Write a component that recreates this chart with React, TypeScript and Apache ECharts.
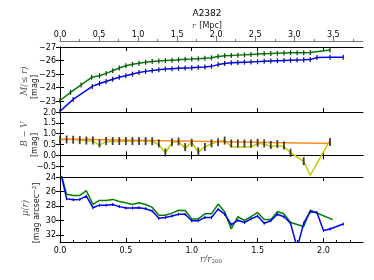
import React, { useEffect, useRef } from "react";
import * as echarts from "echarts";

// ---- Top panel: cumulative magnitude M(<=r) ----
const magRV = [0, 0.08, 0.16, 0.24, 0.3, 0.35, 0.4, 0.45, 0.5, 0.55, 0.6, 0.65, 0.7, 0.75, 0.8, 0.85, 0.9, 0.95, 1.0, 1.05, 1.1, 1.15, 1.2, 1.25, 1.3, 1.35, 1.4, 1.45, 1.5, 1.55, 1.6, 1.65, 1.7, 1.75, 1.8, 1.85, 1.9, 2.05];
const magV = [-23.05, -23.65, -24.2, -24.76, -24.88, -25.05, -25.25, -25.45, -25.62, -25.72, -25.8, -25.88, -25.93, -25.97, -26.0, -26.03, -26.06, -26.09, -26.11, -26.14, -26.17, -26.2, -26.3, -26.36, -26.38, -26.4, -26.42, -26.45, -26.48, -26.5, -26.52, -26.54, -26.56, -26.58, -26.58, -26.58, -26.6, -26.78];
const magRB = [0, 0.1, 0.245, 0.3, 0.35, 0.4, 0.45, 0.5, 0.55, 0.6, 0.65, 0.7, 0.75, 0.8, 0.85, 0.9, 0.95, 1.0, 1.05, 1.1, 1.15, 1.2, 1.25, 1.3, 1.35, 1.4, 1.45, 1.5, 1.55, 1.6, 1.65, 1.7, 1.75, 1.8, 1.85, 1.9, 1.95, 2.05, 2.15];
const magB = [-22.26, -23.13, -24.09, -24.3, -24.45, -24.62, -24.77, -24.88, -25.0, -25.12, -25.2, -25.27, -25.32, -25.37, -25.4, -25.43, -25.45, -25.47, -25.5, -25.53, -25.57, -25.7, -25.78, -25.83, -25.86, -25.88, -25.9, -25.92, -25.94, -25.96, -25.98, -26.0, -26.02, -26.04, -26.05, -26.07, -26.22, -26.24, -26.25];

// ---- Middle panel: B - V colour ----
const colR = [0, 0.05, 0.1, 0.15, 0.2, 0.25, 0.3, 0.35, 0.4, 0.45, 0.5, 0.55, 0.6, 0.65, 0.7, 0.75, 0.8, 0.85, 0.9, 0.95, 1.0, 1.05, 1.1, 1.15, 1.2, 1.25, 1.3, 1.35, 1.4, 1.45, 1.5, 1.55, 1.6, 1.65, 1.7, 1.75, 1.85, 1.9, 2.05];
const colBV = [0.72, 0.73, 0.74, 0.7, 0.67, 0.66, 0.47, 0.63, 0.64, 0.65, 0.65, 0.65, 0.66, 0.66, 0.64, 0.5, 0.12, 0.58, 0.63, 0.32, 0.61, 0.15, 0.4, 0.53, 0.64, 0.7, 0.4, 0.38, 0.38, 0.38, 0.55, 0.52, 0.4, 0.46, 0.4, 0.12, -0.28, -0.92, 0.7];
const barBV = [0.72, 0.73, 0.72, 0.7, 0.68, 0.68, 0.55, 0.66, 0.66, 0.66, 0.66, 0.66, 0.66, 0.66, 0.65, 0.55, 0.13, 0.6, 0.64, 0.38, 0.58, 0.18, 0.38, 0.55, 0.6, 0.68, 0.55, 0.55, 0.55, 0.55, 0.58, 0.55, 0.48, 0.52, 0.45, 0.12, -0.27, null, 0.62];
const fitR = [0, 2.05];
const fitBV = [0.75, 0.55];

// ---- Bottom panel: surface brightness mu(r) ----
const muRV = [0, 0.05, 0.1, 0.15, 0.2, 0.25, 0.3, 0.35, 0.4, 0.45, 0.5, 0.55, 0.6, 0.65, 0.7, 0.75, 0.8, 0.85, 0.9, 0.95, 1.0, 1.05, 1.1, 1.15, 1.2, 1.25, 1.3, 1.35, 1.4, 1.45, 1.5, 1.55, 1.6, 1.65, 1.7, 1.75, 1.85, 1.9, 2.07];
const muV = [23.0, 26.4, 26.55, 26.55, 25.9, 27.8, 27.25, 27.25, 27.1, 27.4, 27.57, 27.8, 27.57, 27.8, 28.2, 29.3, 29.3, 29.0, 28.6, 28.65, 29.8, 29.8, 29.1, 29.1, 27.75, 28.8, 31.2, 29.5, 30.0, 29.5, 28.9, 29.9, 29.9, 28.8, 29.1, 30.3, 30.85, 28.6, 29.9];
const muRB = [0, 0.05, 0.1, 0.15, 0.2, 0.25, 0.3, 0.35, 0.4, 0.45, 0.5, 0.55, 0.6, 0.65, 0.7, 0.75, 0.8, 0.85, 0.9, 0.95, 1.0, 1.05, 1.1, 1.15, 1.2, 1.25, 1.3, 1.35, 1.4, 1.45, 1.5, 1.55, 1.6, 1.65, 1.7, 1.75, 1.8, 1.85, 1.9, 1.95, 2.0, 2.05, 2.15];
const muB = [23.0, 27.0, 27.15, 27.1, 26.65, 28.25, 27.9, 27.9, 27.8, 28.1, 28.3, 28.3, 28.25, 28.4, 28.7, 29.7, 29.6, 29.4, 29.15, 29.15, 30.07, 30.07, 29.6, 29.6, 28.45, 29.15, 30.6, 30.0, 30.3, 29.8, 29.4, 30.4, 30.05, 29.15, 29.5, 30.4, 33.8, 30.4, 28.8, 28.9, 31.4, 31.2, 30.5];

// ---- Tick values ----
const rTicks = [0, 0.5, 1.0, 1.5, 2.0];
const rMinor = [0.1, 0.2, 0.3, 0.4, 0.6, 0.7, 0.8, 0.9, 1.1, 1.2, 1.3, 1.4, 1.6, 1.7, 1.8, 1.9, 2.1, 2.2];
const mpcTicks = [0, 0.5, 1.0, 1.5, 2.0, 2.5, 3.0, 3.5];
const mpcMinor = [0.25, 0.75, 1.25, 1.75, 2.25, 2.75, 3.25, 3.75];
const magTicks = [-27, -26, -25, -24, -23];
const bvTicks = [-0.5, 0, 0.5, 1.0, 1.5, 2.0];
const bvAllTicks = [-1, -0.5, 0, 0.5, 1.0, 1.5, 2.0];
const muTicks = [24, 26, 28, 30, 32];

const pairs = (xs: number[], ys: (number | null)[]) => xs.map((x, i) => [x, ys[i]]);
const minus = (d: number) => (v: number) => (v < -1e-9 ? "\u2212" : "") + Math.abs(v).toFixed(d);

const FONT = "DejaVu Sans";
const MATH = "DejaVu Serif";

export default function App() {
  const ref = useRef<HTMLDivElement>(null);
  useEffect(() => {
    const chart = echarts.init(ref.current!, null, { renderer: "svg" });
    const L = 60, W = 303, H = 65;
    const tops = [47, 112, 177];
    const lbl = (vals: number[], d: number, show = true) => ({
      show,
      customValues: vals,
      formatter: minus(d),
      fontFamily: FONT,
      fontSize: 8,
      color: "#000",
      margin: 4,
      hideOverlap: false,
      showMinLabel: true,
      showMaxLabel: true,
    });
    const line = { show: true, lineStyle: { color: "#000", width: 1 } };
    const xAx = (grid: number, position: string, labels: boolean) => ({
      type: "value",
      gridIndex: grid,
      position,
      min: 0,
      max: 2.3,
      axisLine: line,
      axisTick: { show: true, inside: true, length: 4, customValues: rTicks, lineStyle: { color: "#000" } },
      axisLabel: lbl(rTicks, 1, labels),
      splitLine: { show: false },
    });
    const xMinor = (grid: number, position: string) => ({
      type: "value",
      gridIndex: grid,
      position,
      min: 0,
      max: 2.3,
      axisLine: { show: false },
      axisTick: { show: true, inside: true, length: 2, customValues: rMinor, lineStyle: { color: "#000" } },
      axisLabel: { show: false },
      splitLine: { show: false },
    });
    const yAx = (grid: number, position: string, min: number, max: number, inverse: boolean, ticks: number[], labels: number[], d: number, show: boolean) => ({
      type: "value",
      gridIndex: grid,
      position,
      min,
      max,
      inverse,
      axisLine: line,
      axisTick: { show: true, inside: true, length: 4, customValues: ticks, lineStyle: { color: "#000" } },
      axisLabel: lbl(labels, d, show),
      splitLine: { show: false },
    });

    const option: any = {
      animation: false,
      grid: tops.map((t) => ({ left: L, top: t, width: W, height: H, show: false })),
      xAxis: [
        xAx(0, "bottom", false), // 0
        xAx(0, "top", false), // 1
        {
          type: "value",
          gridIndex: 0,
          position: "top",
          offset: 6,
          min: 0,
          max: 3.88,
          axisLine: { show: true, lineStyle: { color: "#777", width: 1 } },
          axisTick: { show: true, inside: false, length: 4, customValues: mpcTicks, lineStyle: { color: "#777" } },
          axisLabel: { ...lbl(mpcTicks, 1, true), margin: 3 },
          splitLine: { show: false },
        }, // 2
        {
          type: "value",
          gridIndex: 0,
          position: "top",
          offset: 6,
          min: 0,
          max: 3.88,
          axisLine: { show: false },
          axisTick: { show: true, inside: false, length: 2, customValues: mpcMinor, lineStyle: { color: "#777" } },
          axisLabel: { show: false },
          splitLine: { show: false },
        }, // 3
        xAx(1, "bottom", false), // 4
        xAx(1, "top", false), // 5
        xAx(2, "bottom", true), // 6
        xAx(2, "top", false), // 7
        xMinor(2, "bottom"), // 8
      ],
      yAxis: [
        yAx(0, "left", -27, -22.2, true, magTicks, magTicks, 0, true), // 0
        yAx(0, "right", -27, -22.2, true, magTicks, magTicks, 0, false), // 1
        yAx(1, "left", -1, 2, false, bvAllTicks, bvTicks, 1, true), // 2
        yAx(1, "right", -1, 2, false, bvAllTicks, bvTicks, 1, false), // 3
        yAx(2, "left", 24, 33, true, muTicks, muTicks, 0, true), // 4
        yAx(2, "right", 24, 33, true, muTicks, muTicks, 0, false), // 5
      ],
      series: [
        {
          type: "line",
          xAxisIndex: 0,
          yAxisIndex: 0,
          data: pairs(magRV, magV),
          lineStyle: { color: "#008000", width: 1.5 },
          symbol: "rect",
          symbolSize: [1.2, 5],
          itemStyle: { color: "#1a3a1a" },
          z: 3,
        },
        {
          type: "line",
          xAxisIndex: 0,
          yAxisIndex: 0,
          data: pairs(magRB, magB),
          lineStyle: { color: "#0000ff", width: 1.5 },
          symbol: "rect",
          symbolSize: [1.2, 5],
          itemStyle: { color: "#10105a" },
          z: 3,
        },
        {
          type: "line",
          xAxisIndex: 4,
          yAxisIndex: 2,
          data: pairs(colR, colBV),
          lineStyle: { color: "#c8c800", width: 1.5 },
          symbol: "none",
          z: 2,
        },
        {
          type: "line",
          xAxisIndex: 4,
          yAxisIndex: 2,
          data: pairs(fitR, fitBV),
          lineStyle: { color: "#ff8c1a", width: 1.5 },
          symbol: "none",
          z: 3,
        },
        {
          type: "scatter",
          xAxisIndex: 4,
          yAxisIndex: 2,
          data: pairs(colR, barBV).filter((p) => p[1] !== null),
          symbol: "rect",
          symbolSize: [1.8, 8],
          itemStyle: { color: "#111" },
          z: 4,
        },
        {
          type: "line",
          xAxisIndex: 6,
          yAxisIndex: 4,
          data: pairs(muRV, muV),
          lineStyle: { color: "#008000", width: 1.5 },
          symbol: "none",
          z: 3,
        },
        {
          type: "line",
          xAxisIndex: 6,
          yAxisIndex: 4,
          data: pairs(muRB, muB),
          lineStyle: { color: "#0000ff", width: 1.5 },
          symbol: "rect",
          symbolSize: [1, 3],
          itemStyle: { color: "#0000aa" },
          z: 4,
        },
      ],
      graphic: [
        { type: "text", x: 207, y: 13, style: { text: "A2382", font: `9px '${FONT}'`, fill: "#000", align: "center", verticalAlign: "middle" } },
        {
          type: "text",
          x: 207,
          y: 25,
          style: {
            text: "{a|r} {b|[Mpc]}",
            align: "center",
            verticalAlign: "middle",
            rich: {
              a: { fontFamily: MATH, fontStyle: "italic", fontSize: 8, fill: "#555" },
              b: { fontFamily: FONT, fontSize: 8, fill: "#222" },
            },
          },
        },
        {
          type: "text",
          x: 211,
          y: 259,
          style: {
            text: "{a|r/r}{s|200}",
            align: "center",
            verticalAlign: "middle",
            rich: {
              a: { fontFamily: MATH, fontStyle: "italic", fontSize: 9, fill: "#555" },
              s: { fontFamily: MATH, fontSize: 5.5, fill: "#555", padding: [4, 0, 0, 0] },
            },
          },
        },
        { type: "text", x: 24, y: 81, rotation: Math.PI / 2, style: { text: "M(\u2264 r)", font: `italic 8.5px '${MATH}'`, fill: "#555", align: "center", verticalAlign: "middle" } },
        { type: "text", x: 34, y: 87, rotation: Math.PI / 2, style: { text: "[mag]", font: `8px '${FONT}'`, fill: "#222", align: "center", verticalAlign: "middle" } },
        { type: "text", x: 24, y: 134, rotation: Math.PI / 2, style: { text: "B \u2212 V", font: `italic 8.5px '${MATH}'`, fill: "#555", align: "center", verticalAlign: "middle" } },
        { type: "text", x: 34, y: 145, rotation: Math.PI / 2, style: { text: "[mag]", font: `8px '${FONT}'`, fill: "#222", align: "center", verticalAlign: "middle" } },
        { type: "text", x: 25, y: 208, rotation: Math.PI / 2, style: { text: "\u03bc(r)", font: `italic 8.5px '${MATH}'`, fill: "#555", align: "center", verticalAlign: "middle" } },
        {
          type: "text",
          x: 36,
          y: 213,
          rotation: Math.PI / 2,
          style: {
            text: "{b|[mag arcsec}{s|\u22122}{b|]}",
            align: "center",
            verticalAlign: "middle",
            rich: {
              b: { fontFamily: FONT, fontSize: 8, fill: "#222" },
              s: { fontFamily: FONT, fontSize: 5.5, fill: "#222", padding: [0, 0, 4, 0] },
            },
          },
        },
      ],
    };
    chart.setOption(option);
    return () => chart.dispose();
  }, []);
  return <div ref={ref} style={{ position: "fixed", left: 0, top: 0, width: 374, height: 280 }} />;
}
